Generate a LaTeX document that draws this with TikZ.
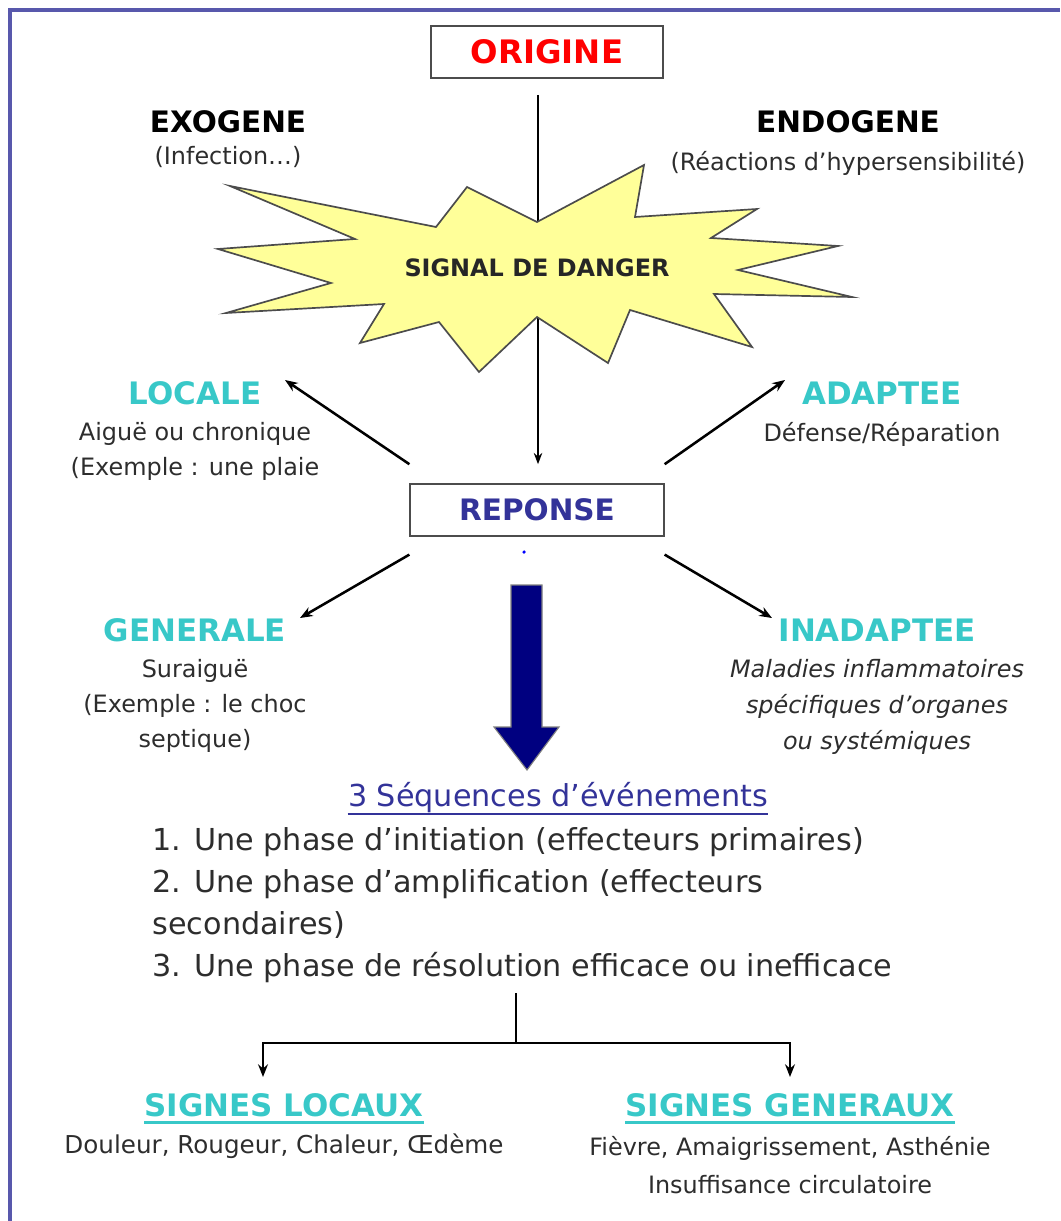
\documentclass[tikz,border=0pt]{standalone}
\usepackage{fontspec}
\setmainfont{DejaVu Sans}
\usepackage{tikz}
\usetikzlibrary{arrows.meta, positioning}

\definecolor{cadre}{RGB}{88,88,172}
\definecolor{turquoise}{RGB}{56,200,200}
\definecolor{bleunuit}{RGB}{51,51,153}
\definecolor{marine}{RGB}{0,0,128}
\definecolor{jaune}{RGB}{255,255,153}
\definecolor{gris}{RGB}{45,45,45}

\begin{document}
\begin{tikzpicture}[x=0.025cm, y=-0.025cm, auto, >={Stealth[length=9pt, width=7pt]}, thick]
        % Estilos
        \tikzstyle{block} = [draw=black!70, line width=1.4pt, rectangle, fill=white, minimum height=1.3cm]
        \tikzstyle{titre} = [font=\fontsize{22}{26}\selectfont\bfseries, text=turquoise, inner sep=0pt]
        \tikzstyle{cause} = [font=\fontsize{21}{26}\selectfont\bfseries, inner sep=0pt]
        \tikzstyle{desc} = [font=\fontsize{17}{25}\selectfont, text=gris, align=center, inner sep=0pt]
        \tikzstyle{souligne} = [font=\fontsize{22}{26}\selectfont\bfseries, text=turquoise, inner xsep=0pt, inner ysep=4pt]
        \tikzstyle{fleche} = [->, line width=1.8pt]

        \useasboundingbox (0,0) rectangle (1060,1221);
        \draw [cadre, line width=2.2pt] (10,1221) -- (10,10) -- (1060,10);

        % Nodes
        \node [block, minimum width=5.78cm, text=red, font=\fontsize{23}{26}\selectfont\bfseries] (origine) at (547,52) {ORIGINE};
        \node [block, minimum width=6.33cm, minimum height=1.28cm, text=bleunuit, font=\fontsize{21}{26}\selectfont\bfseries] (reponse) at (537,510) {REPONSE};
        \node [circle, fill=blue, inner sep=0pt, minimum size=2.5pt] (point) at (524,552) {};
        \coordinate (depart) at (538,95);

        % Lines
        \draw [->, line width=1.8pt, >={Stealth[length=8pt, width=6pt]}] (depart) -- ([yshift=0.48cm]depart |- reponse.north);

        % Etoile
        \filldraw [fill=jaune, draw=black!70, line width=1.2pt] (537,222) -- (467,187) -- (436,227) -- (230,186) -- (355,239) -- (218,249) -- (331,283) -- (226,313) -- (384,304) -- (360,343) -- (439,322) -- (479,372) -- (537,317) -- (608,363) -- (630,310) -- (752,347) -- (714,294) -- (852,297) -- (738,270) -- (838,246) -- (711,238) -- (757,209) -- (635,217) -- (644,165) -- cycle;
        \node [font=\fontsize{17}{20}\selectfont\bfseries, text=black!85] (danger) at (537,268) {SIGNAL DE DANGER};

        \node [cause] (exogene) at (228,122) {EXOGENE};
        \node [desc, on grid, below=0.88cm of exogene] (infection) {(Infection…)};
        \node [cause] (endogene) at (848,122) {ENDOGENE};
        \node [desc, on grid, below=1.03cm of endogene] (reactions) {(Réactions d'hypersensibilité)};

        \node [titre] (locale) at (195,393) {LOCALE};
        \node [desc, on grid, below=1.45cm of locale] (localetxt) {Aiguë ou chronique\\(Exemple : une plaie};
        \node [titre] (adaptee) at (882,393) {ADAPTEE};
        \node [desc, on grid, below=1.03cm of adaptee] (adapteetxt) {Défense/Réparation};
        \node [titre] (generale) at (195,630) {GENERALE};
        \node [desc, on grid, below=1.9cm of generale] (generaletxt) {Suraiguë\\(Exemple : le choc\\septique)};
        \node [titre] (inadaptee) at (877,630) {INADAPTEE};
        \node [desc, on grid, below=1.93cm of inadaptee, font=\fontsize{17}{25.5}\selectfont\itshape] (inadapteetxt) {Maladies inflammatoires\\spécifiques d'organes\\ou systémiques};

        \coordinate (cLocale) at (285,380);
        \coordinate (cAdaptee) at (785,380);
        \coordinate (cGenerale) at (300,618);
        \coordinate (cInadaptee) at (772,618);
        \draw [fleche] ([yshift=0.48cm]reponse.north west) -- (cLocale);
        \draw [fleche] ([yshift=0.48cm]reponse.north east) -- (cAdaptee);
        \draw [fleche] ([yshift=-0.45cm]reponse.south west) -- (cGenerale);
        \draw [fleche] ([yshift=-0.45cm]reponse.south east) -- (cInadaptee);

        % Grosse fleche
        \filldraw [fill=marine, draw=black!50, line width=0.8pt] (511,585) -- (542,585) -- (542,727) -- (559,727) -- (527,770) -- (494,727) -- (511,727) -- cycle;

        \node [font=\fontsize{21.5}{26}\selectfont, text=bleunuit, inner xsep=0pt, inner ysep=0pt] (sequences) at (558,798) {3 Séquences d'événements};
        \draw [bleunuit, line width=1.5pt] (sequences.south west) -- (sequences.south east);
        \node [desc, align=left, anchor=west, font=\fontsize{21.5}{29.9}\selectfont] (phases) at (152,905) {1. Une phase d'initiation (effecteurs primaires)\\2. Une phase d'amplification (effecteurs\\secondaires)\\3. Une phase de résolution efficace ou inefficace};

        \coordinate (tige) at (516,993);
        \coordinate (jonction) at (516,1043);
        \coordinate (versLocaux) at (263,1077);
        \coordinate (versGeneraux) at (790,1077);
        \draw [line width=2pt] (tige) -- (jonction);
        \draw [->, line width=2pt] (jonction) -| (versLocaux);
        \draw [->, line width=2pt] (jonction) -| (versGeneraux);

        \node [souligne] (slocaux) at (284,1105) {SIGNES LOCAUX};
        \draw [turquoise, line width=2pt] (slocaux.south west) -- (slocaux.south east);
        \node [desc, on grid, below=1.03cm of slocaux, font=\fontsize{17.5}{25}\selectfont] (slocauxtxt) {Douleur, Rougeur, Chaleur, Œdème};
        \node [souligne] (sgeneraux) at (790,1105) {SIGNES GENERAUX};
        \draw [turquoise, line width=2pt] (sgeneraux.south west) -- (sgeneraux.south east);
        \node [desc, on grid, below=1.5cm of sgeneraux, font=\fontsize{17}{27}\selectfont] (sgenerauxtxt) {Fièvre, Amaigrissement, Asthénie\\Insuffisance circulatoire};

      \end{tikzpicture}
\end{document}
